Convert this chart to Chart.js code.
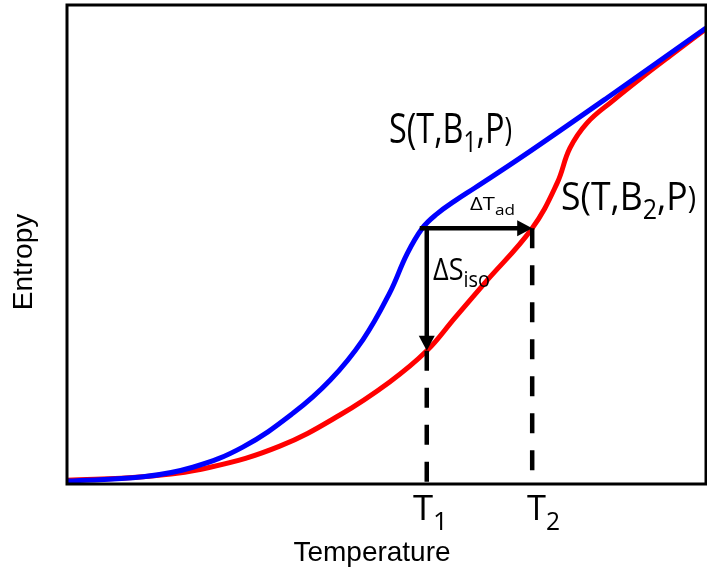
<!DOCTYPE html>
<html lang="en">
<head>
  <meta charset="UTF-8">
  <title>Entropy vs Temperature</title>
  <script src="https://cdn.jsdelivr.net/npm/chart.js"></script>
  <style>
    body { margin: 0; background: #fff; }
  </style>
</head>
<body>
  <canvas id="entropyChart" width="707" height="570"></canvas>
  <script>
    // curve at field B1 (blue) and B2 (red) (0..100 scale)
    const tempB1 = [0, 11.9, 19.7, 27.5, 35.4, 41.2, 46.3, 50.5, 53.2, 55.6, 57.9, 60.7, 63.8, 71.4, 84.5, 100];
    const entropyB1 = [0.6, 1.5, 3.5, 7.7, 14.8, 21.7, 30.1, 39.9, 48.0, 53.4, 56.4, 59.1, 61.8, 68.5, 80.6, 95.2];
    const tempB2 = [0, 11.9, 22.4, 33.3, 42.7, 50.5, 56.3, 60.7, 65.4, 72.8, 76.7, 78.7, 81.4, 85.4, 89.7, 94.4, 100];
    const entropyB2 = [0.8, 1.5, 3.5, 7.9, 14.4, 21.3, 27.8, 34.7, 42.0, 53.4, 62.8, 70.1, 75.4, 80.0, 84.6, 89.4, 95.0];

    // the two temperatures and the entropy levels of the arrows
    const T1 = 56.3;
    const T2 = 72.8;
    const sHigh = 53.4;
    const sLow = 27.8;

    const toPoints = (xs, ys) => xs.map((x, i) => ({ x: x, y: ys[i] }));

    const labelFont = '"Open Sans", sans-serif';
    const axisFont = '"Liberation Sans", Arial, sans-serif';

    // draws text runs [text, size, baseline shift] squeezed into a given width,
    // stretched so the main capitals get the given height
    const drawLabel = (ctx, x, y, width, cap, runs) => {
      let natural = 0;
      runs.forEach(r => {
        ctx.font = r[1] + 'px ' + labelFont;
        natural += ctx.measureText(r[0]).width;
      });
      const sx = width / natural;
      const sy = cap / (runs[0][1] * 0.714);
      ctx.save();
      ctx.translate(x, y);
      ctx.scale(sx, sy);
      let cx = 0;
      runs.forEach(r => {
        ctx.font = r[1] + 'px ' + labelFont;
        ctx.fillText(r[0], cx, r[2] / sy);
        cx += ctx.measureText(r[0]).width;
      });
      ctx.restore();
    };

    const arrowHead = (ctx, x, y, dir) => {
      ctx.beginPath();
      if (dir === 'right') {
        ctx.moveTo(x, y);
        ctx.lineTo(x - 15, y - 8);
        ctx.lineTo(x - 15, y + 8);
      } else {
        ctx.moveTo(x, y);
        ctx.lineTo(x - 8, y - 15);
        ctx.lineTo(x + 8, y - 15);
      }
      ctx.closePath();
      ctx.fill();
    };

    const decorations = {
      id: 'decorations',
      afterDraw(chart) {
        const ctx = chart.ctx;
        const area = chart.chartArea;
        const xs = chart.scales.x;
        const ys = chart.scales.y;
        const xT1 = xs.getPixelForValue(T1);
        const xT2 = xs.getPixelForValue(T2);
        const yHi = ys.getPixelForValue(sHigh);
        const yLo = ys.getPixelForValue(sLow);
        const yBase = ys.getPixelForValue(0);

        ctx.save();
        ctx.strokeStyle = '#000';
        ctx.fillStyle = '#000';

        // frame
        ctx.lineWidth = 3;
        ctx.strokeRect(area.left, area.top, area.right - area.left, area.bottom - area.top);

        // dashed drop lines
        ctx.lineWidth = 4.5;
        ctx.setLineDash([20, 17]);
        ctx.beginPath();
        ctx.moveTo(xT1, yLo);
        ctx.lineTo(xT1, yBase);
        ctx.moveTo(xT2, yHi);
        ctx.lineTo(xT2, yBase);
        ctx.stroke();
        ctx.setLineDash([]);

        // arrows
        ctx.beginPath();
        ctx.moveTo(xT1 - 7, yHi);
        ctx.lineTo(xT2 - 12, yHi);
        ctx.moveTo(xT1, yHi - 2);
        ctx.lineTo(xT1, yLo - 12);
        ctx.stroke();
        arrowHead(ctx, xT2, yHi, 'right');
        arrowHead(ctx, xT1, yLo, 'down');

        // labels
        ctx.textAlign = 'left';
        ctx.textBaseline = 'alphabetic';
        drawLabel(ctx, 389, 143, 123, 30, [['S(T,B', 34, 0], ['1', 24, 9], [',P', 34, 0], [')', 27, -2]]);
        drawLabel(ctx, 561, 210, 135, 28, [['S(T,B', 34, 0], ['2', 24, 9], [',P', 34, 0], [')', 27, -2]]);
        drawLabel(ctx, 470, 210, 45, 13, [['\u0394T', 18, 0], ['ad', 14, 5]]);
        drawLabel(ctx, 433, 280, 57, 22, [['\u0394S', 30, 0], ['iso', 22, 7]]);
        drawLabel(ctx, 413, 520, 35, 25, [['T', 35, 0], ['1', 25, 10]]);
        drawLabel(ctx, 527, 520, 33, 25, [['T', 35, 0], ['2', 25, 10]]);

        // axis titles
        ctx.font = '28px ' + axisFont;
        ctx.textAlign = 'center';
        ctx.fillText('Temperature', 372, 561);
        ctx.translate(32, 262);
        ctx.rotate(-Math.PI / 2);
        ctx.fillText('Entropy', 0, 0);
        ctx.restore();
      }
    };

    new Chart(document.getElementById('entropyChart').getContext('2d'), {
      type: 'line',
      data: {
        datasets: [
          {
            label: 'S(T,B1,P)',
            data: toPoints(tempB1, entropyB1),
            borderColor: '#0000ff',
            borderWidth: 5,
            pointRadius: 0,
            tension: 0.4,
            fill: false
          },
          {
            label: 'S(T,B2,P)',
            data: toPoints(tempB2, entropyB2),
            borderColor: '#ff0000',
            borderWidth: 5,
            pointRadius: 0,
            tension: 0.4,
            fill: false
          }
        ]
      },
      options: {
        responsive: false,
        animation: false,
        layout: { padding: { left: 67, right: 1, top: 5, bottom: 86 } },
        plugins: { legend: { display: false }, tooltip: { enabled: false } },
        scales: {
          x: { type: 'linear', min: 0, max: 100, display: false },
          y: { type: 'linear', min: 0, max: 100, display: false }
        }
      },
      plugins: [decorations]
    });
  </script>
</body>
</html>
